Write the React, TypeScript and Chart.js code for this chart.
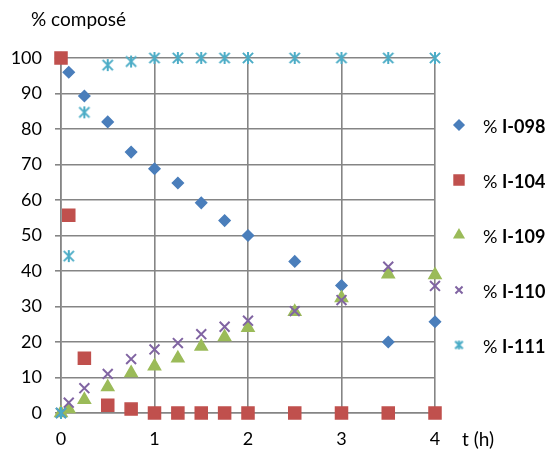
import React, { useEffect, useRef } from "react";
import { Chart, registerables } from "chart.js";
import { drawPoint } from "chart.js/helpers";

Chart.register(...registerables);

const times = [0, 0.083, 0.25, 0.5, 0.75, 1, 1.25, 1.5, 1.75, 2, 2.5, 3, 3.5, 4];
const i098 = [100, 96, 89.3, 82, 73.5, 68.8, 64.8, 59.2, 54.2, 50, 42.7, 35.9, 20, 25.7];
const i104 = [100, 55.7, 15.4, 2.2, 1.1, 0, 0, 0, 0, 0, 0, 0, 0, 0];
const i109 = [0, 1.1, 3.7, 7.3, 11.3, 13.2, 15.4, 18.7, 21.4, 24, 28.5, 32.4, 39.1, 38.9];
const i110 = [0, 2.9, 7, 11, 15.2, 17.9, 19.7, 22.2, 24.3, 26, 28.7, 31.8, 41.2, 35.8];
const i111 = [0, 44.2, 84.7, 98, 99, 100, 100, 100, 100, 100, 100, 100, 100, 100];
const seriesNames = ["I-098", "I-104", "I-109", "I-110", "I-111"];
const yTitle = "% composé";
const xTitle = "t (h)";

const FONT = "Lato, 'Open Sans', sans-serif";

function makeStar(size: number, color: string) {
  const c = document.createElement("canvas");
  c.width = size;
  c.height = size;
  const g = c.getContext("2d")!;
  g.strokeStyle = color;
  g.lineWidth = 2;
  const m = size / 2;
  const r = size / 2 - 1;
  const d = r * 0.85;
  g.beginPath();
  g.moveTo(m - d, m - d);
  g.lineTo(m + d, m + d);
  g.moveTo(m + d, m - d);
  g.lineTo(m - d, m + d);
  g.moveTo(m, m - r);
  g.lineTo(m, m + r);
  g.stroke();
  return c;
}

const specs: any[] = [
  { data: i098, color: "#4a7ebb", style: "rectRot", r: 5.5, lr: 5, bw: 1.5 },
  { data: i104, color: "#c0504d", style: "rect", r: 8.5, lr: 7, bw: 1.5 },
  { data: i109, color: "#9bbb59", style: "triangle", r: 7, lr: 5.5, bw: 1.5 },
  { data: i110, color: "#8064a2", style: "crossRot", r: 7, lr: 5, bw: 2 },
  { data: i111, color: "#4bacc6", style: "star", r: 6.5, lr: 5, bw: 2 },
];

const overlay = {
  id: "overlay",
  afterDraw(chart: any) {
    const ctx = chart.ctx;
    ctx.save();
    ctx.fillStyle = "#000";
    ctx.textBaseline = "middle";
    ctx.textAlign = "left";
    ctx.font = `19px ${FONT}`;
    ctx.fillText(yTitle, 31, 20);
    ctx.fillText(xTitle, 462, 440);
    specs.forEach((s, i) => {
      const y = 125 + i * 55;
      ctx.fillStyle = s.color;
      ctx.strokeStyle = s.color;
      ctx.lineWidth = s.bw;
      if (s.style === "star") {
        ctx.drawImage(makeStar(11, s.color), 459 - 5.5, y - 5.5);
      } else {
        drawPoint(ctx, { pointStyle: s.style, radius: s.lr, borderWidth: s.bw, rotation: 0 } as any, 459, y);
      }
      ctx.fillStyle = "#000";
      ctx.font = `18px ${FONT}`;
      ctx.fillText("% ", 483, y + 2);
      const w = ctx.measureText("% ").width;
      ctx.font = `bold 18px ${FONT}`;
      ctx.fillText(seriesNames[i], 483 + w, y + 2);
    });
    ctx.restore();
  },
};

export default function App() {
  const ref = useRef<HTMLCanvasElement>(null);
  useEffect(() => {
    if (!ref.current) return;
    const starImg = makeStar(14, "#4bacc6");
    const chart = new Chart(ref.current, {
      type: "scatter",
      data: {
        datasets: specs.map((s, i) => ({
          label: "% " + seriesNames[i],
          data: times.map((t, k) => ({ x: t, y: s.data[k] })),
          pointStyle: (s.style === "star" ? starImg : s.style) as any,
          pointRadius: s.r,
          pointHoverRadius: s.r,
          backgroundColor: s.color,
          borderColor: s.color,
          pointBorderWidth: s.bw,
          showLine: false,
          clip: false as any,
          order: 4 - i,
        })),
      },
      options: {
        animation: false,
        responsive: false,
        maintainAspectRatio: false,
        layout: { padding: { left: 0, right: 116, top: 58, bottom: 0 } },
        plugins: { legend: { display: false }, tooltip: { enabled: false } },
        scales: {
          x: {
            type: "linear",
            min: 0,
            max: 4,
            afterFit: (s: any) => { s.height = 37; },
            ticks: { stepSize: 1, color: "#000", font: { family: FONT, size: 18 }, padding: 9 },
            grid: { color: "#858585", lineWidth: 1.6, tickLength: 6 },
            border: { color: "#858585", width: 1.6 },
          },
          y: {
            min: 0,
            max: 100,
            afterFit: (s: any) => { s.width = 61; },
            ticks: { stepSize: 10, color: "#000", font: { family: FONT, size: 18 }, padding: 13 },
            grid: { color: "#858585", lineWidth: 1.6, tickLength: 6 },
            border: { color: "#858585", width: 1.6 },
          },
        },
      },
      plugins: [overlay],
    });
    return () => chart.destroy();
  }, []);
  return (
    <div style={{ position: "absolute", left: 0, top: 0, width: 551, height: 450, background: "#fff" }}>
      <canvas ref={ref} width={551} height={450} />
    </div>
  );
}
